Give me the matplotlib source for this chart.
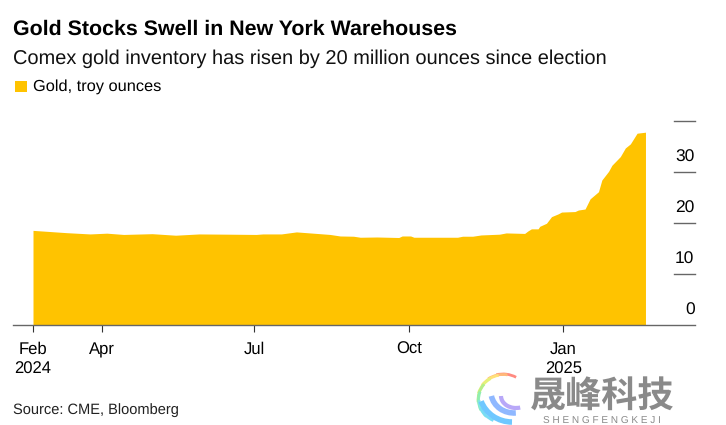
import matplotlib
matplotlib.use('Agg')
import matplotlib.pyplot as plt
import matplotlib.dates as mdates
from matplotlib.patches import Arc, Rectangle
from matplotlib.transforms import blended_transform_factory
import pandas as pd

dates = ['2024-02-20', '2024-02-29', '2024-03-11', '2024-03-25', '2024-04-04', '2024-04-14', '2024-05-01',
         '2024-05-15', '2024-05-29', '2024-06-16', '2024-07-02', '2024-07-06', '2024-07-17', '2024-07-26',
         '2024-08-05', '2024-08-15', '2024-08-21', '2024-08-29', '2024-09-02', '2024-09-12', '2024-09-25',
         '2024-09-27', '2024-10-02', '2024-10-04', '2024-10-30', '2024-11-02', '2024-11-08', '2024-11-13',
         '2024-11-24', '2024-11-28', '2024-12-09', '2024-12-11', '2024-12-13', '2024-12-17', '2024-12-18',
         '2024-12-22', '2024-12-25', '2024-12-29', '2024-12-31', '2025-01-08', '2025-01-10', '2025-01-14',
         '2025-01-17', '2025-01-22', '2025-01-24', '2025-01-28', '2025-01-30', '2025-02-04', '2025-02-07',
         '2025-02-10', '2025-02-14', '2025-02-19']
gold = [18.5, 18.3, 18.05, 17.8, 17.95, 17.7, 17.85, 17.55, 17.8, 17.75, 17.7, 17.8, 17.8, 18.2,
        17.95, 17.7, 17.4, 17.35, 17.15, 17.2, 17.1, 17.4, 17.4, 17.15, 17.15, 17.35, 17.35, 17.6,
        17.75, 18.0, 17.9, 18.4, 18.8, 18.8, 19.3, 19.9, 21.2, 21.75, 22.1, 22.2, 22.5, 22.7,
        24.7, 26.1, 28.4, 30.1, 31.3, 33.0, 34.7, 35.5, 37.6, 37.8]
tick_dates = ['2024-02-20', '2024-04-01', '2024-07-01', '2024-10-01', '2025-01-01']
tick_labels = ['Feb\n2024', 'Apr', 'Jul', 'Oct', 'Jan\n2025']
y_ticks = [0, 10, 20, 30, 40]

GOLD = '#ffc300'
plt.rcParams['font.family'] = ['Liberation Sans', 'DejaVu Sans']
plt.rcParams['text.hinting'] = 'none'

W, H = 726, 425
fig = plt.figure(figsize=(W / 100, H / 100), dpi=100)
ax = fig.add_axes([13 / W, 1 - 324.5 / H, (694.5 - 13) / W, (324.5 - 121) / H])

x = pd.to_datetime(dates)
ax.fill_between(x, gold, 0, color=GOLD, lw=0, zorder=2)

start = mdates.date2num(pd.Timestamp('2024-02-20'))
px_day = 1.678
ax.set_xlim(start - 20 / px_day, start + (694.5 - 33) / px_day)
ax.set_ylim(0, 40)

for s in ['top', 'left', 'right']:
    ax.spines[s].set_visible(False)
ax.spines['bottom'].set_color('#666666')
ax.spines['bottom'].set_linewidth(1.0)
ax.spines['bottom'].set_zorder(3)

ax.set_xticks(pd.to_datetime(tick_dates))
ax.set_xticklabels(tick_labels, fontsize=12, linespacing=1.3)
ax.tick_params(axis='x', length=5, width=0.8, color='#333333', pad=7.5, labelcolor='black')
ax.set_yticks([])

# gridline stubs on the right with the label sitting above them
stub_trans = blended_transform_factory(fig.transFigure, ax.transData)
for v in y_ticks:
    if v > 0:
        ax.plot([673.5 / W, 694.5 / W], [v, v], transform=stub_trans, color='#666666', lw=1.0, clip_on=False, zorder=3)
    if v < 40:
        ax.annotate(str(v), xy=(694.5 / W, v), xycoords=stub_trans, xytext=(0, 4.5), textcoords='offset points',
                    ha='right', va='bottom', fontsize=12.5, color='black')

fig.text(13 / W, 1 - 34.5 / H, 'Gold Stocks Swell in New York Warehouses', fontsize=15.4, fontweight='bold', color='black', va='baseline')
fig.text(13 / W, 1 - 63.5 / H, 'Comex gold inventory has risen by 20 million ounces since election', fontsize=14.37, color='#111111', va='baseline')
fig.add_artist(Rectangle((15 / W, 1 - 91.5 / H), 12 / W, 11 / H, transform=fig.transFigure, color=GOLD, lw=0))
fig.text(33 / W, 1 - 91 / H, 'Gold, troy ounces', fontsize=11.8, color='black', va='baseline')
fig.text(13 / W, 1 - 414 / H, 'Source: CME, Bloomberg', fontsize=10.5, color='#222222', va='baseline')

# watermark, bottom right
fig.text(602 / W, 1 - 408 / H, '晟峰科技', family=['Noto Sans CJK SC'], fontsize=26, fontweight='bold',
         color='#8a8a8a', ha='center', va='baseline')
fig.text(602 / W, 1 - 424 / H, 'S H E N G F E N G K E J I', fontsize=7.2, color='#8a8a8a', ha='center', va='baseline')
wm = fig.add_axes([0, 0, 1, 1], facecolor='none')
wm.set_xlim(0, W)
wm.set_ylim(H, 0)
wm.axis('off')
swirl = ['#ff8a80', '#ffb97a', '#ffe27a', '#e4f27a', '#b4ee8a', '#90eeb0', '#80e8e0', '#78dcf5']
for i, col in enumerate(swirl):
    wm.add_patch(Arc((503, 400), 54 - i, 52 - i, theta1=-60 - i * 20 - 45, theta2=-60 - i * 20, color=col, lw=2))
wm.add_patch(Arc((512, 390), 66, 64, theta1=90, theta2=160, color='#6fc8ff', lw=4))
wm.add_patch(Arc((514, 392), 46, 42, theta1=85, theta2=170, color='#8fb8ff', lw=4))
wm.add_patch(Arc((516, 396), 30, 24, theta1=70, theta2=180, color='#b8a8f8', lw=3))

fig.savefig('out.png', dpi=100)
